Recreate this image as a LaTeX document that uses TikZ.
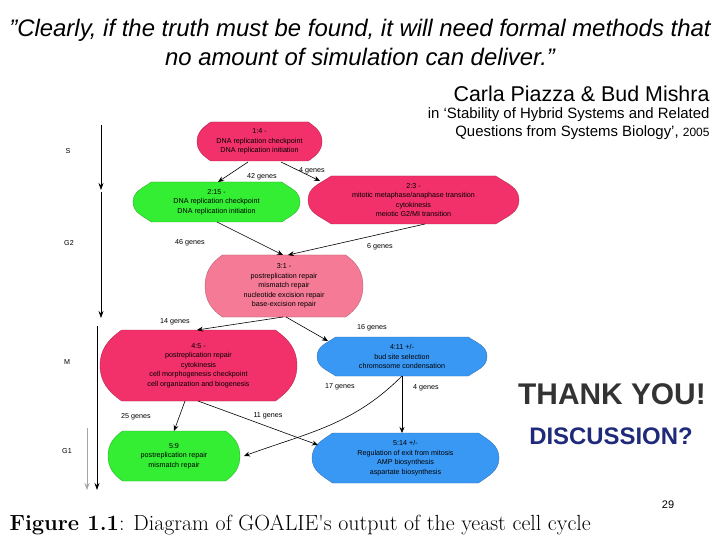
\documentclass[tikz,border=0pt]{standalone}
\usepackage{fontspec}
\setmainfont{Liberation Sans}
\newfontfamily\lmfont{Latin Modern Roman}
\usetikzlibrary{arrows.meta}
\definecolor{cred}{HTML}{F2306A}
\definecolor{cpink}{HTML}{F47A95}
\definecolor{cgreen}{HTML}{33EE33}
\definecolor{cblue}{HTML}{3A98F5}
\definecolor{navy}{HTML}{1F2A7A}
\tikzset{
  gtxt/.style={font=\fontsize{7.2}{9.6}\selectfont, align=center, inner sep=0pt},
  elab/.style={font=\fontsize{7.2}{9}\selectfont, inner sep=1pt},
  edge/.style={-{Stealth[length=6pt,width=5pt]}, line width=0.6pt},
  phase/.style={-{Stealth[length=7pt,width=5pt]}, line width=0.7pt},
}
\newcommand{\gbox}[6]{%
  \pgfmathsetmacro{\dd}{0.11*(#3-#1)}%
  \fill[#5, draw=#5!70!black, line width=0.3pt] (#1+\dd,#2) -- (#3-\dd,#2)
    to[out=-35,in=90] (#3,{(#2+#4)/2}) to[out=-90,in=35] (#3-\dd,#4)
    -- (#1+\dd,#4) to[out=145,in=-90] (#1,{(#2+#4)/2}) to[out=90,in=215] cycle;
  \coordinate (#6) at ({(#1+#3)/2},{(#2+#4)/2});
}
\begin{document}
\begin{tikzpicture}[x=1bp,y=-1bp]
\useasboundingbox (0,0) rectangle (720,540);
\fill[white] (0,0) rectangle (720,540);
\node[font=\fontsize{24}{28}\selectfont\itshape] (q1) at (360,30) {”Clearly, if the truth must be found, it will need formal methods that};
\node[font=\fontsize{24}{28}\selectfont\itshape] (q2) at (360,57) {no amount of simulation can deliver.”};
\node[font=\fontsize{21.5}{25}\selectfont, anchor=east] (au) at (713,94) {Carla Piazza \& Bud Mishra};
\node[font=\fontsize{15}{18}\selectfont, anchor=east] (r1) at (713,115) {in ‘Stability of Hybrid Systems and Related};
\node[font=\fontsize{15}{18}\selectfont, anchor=east] (r2) at (713,133) {Questions from Systems Biology’, {\fontsize{12}{14}\selectfont 2005}};
\gbox{197}{122}{322}{161}{cred}{n1}
\gbox{133}{182}{300}{222}{cgreen}{n2}
\gbox{308}{176}{519}{224}{cred}{n3}
\gbox{205}{255}{363}{317}{cpink}{n4}
\gbox{100}{330}{297}{401}{cred}{n5}
\gbox{317}{337}{487}{376}{cblue}{n6}
\gbox{108}{431}{240}{481}{cgreen}{n7}
\gbox{312}{433}{499}{483}{cblue}{n8}
\node[gtxt] (t1) at (n1) {1:4 -\\DNA replication checkpoint\\DNA replication initiation};
\node[gtxt] (t2) at (n2) {2:15 -\\DNA replication checkpoint\\DNA replication initiation};
\node[gtxt] (t3) at (n3) {2:3 -\\mitotic metaphase/anaphase transition\\cytokinesis\\meiotic G2/MI transition};
\node[gtxt] (t4) at (n4) {3:1 -\\postreplication repair\\mismatch repair\\nucleotide excision repair\\base-excision repair};
\node[gtxt] (t5) at (n5) {4:5 -\\postreplication repair\\cytokinesis\\cell morphogenesis checkpoint\\cell organization and biogenesis};
\node[gtxt] (t6) at (n6) {4:11 +/-\\bud site selection\\chromosome condensation};
\node[gtxt] (t7) at (n7) {5:9\\postreplication repair\\mismatch repair};
\node[gtxt] (t8) at (n8) {5:14 +/-\\Regulation of exit from mitosis\\AMP biosynthesis\\aspartate biosynthesis};
\coordinate (a1) at (248,162); \coordinate (b2) at (218,182);
\coordinate (a1b) at (281,162); \coordinate (b3) at (320,181);
\coordinate (a2) at (217,222); \coordinate (b4) at (283,255);
\coordinate (a3) at (425,224); \coordinate (b4b) at (288,255);
\coordinate (a4) at (283,317); \coordinate (b5) at (197,330);
\coordinate (a4b) at (286,317); \coordinate (b6) at (328,341);
\coordinate (a5) at (185,401); \coordinate (b7) at (174,431);
\coordinate (a5b) at (198,401); \coordinate (b8) at (318,445);
\coordinate (a6) at (402,376); \coordinate (b7b) at (244,456);
\coordinate (a6b) at (402,376); \coordinate (b8b) at (402,433);
\draw[edge] (a1) -- (b2);
\draw[edge] (a1b) -- (b3);
\draw[edge] (a2) -- (b4);
\draw[edge] (a3) -- (b4b);
\draw[edge] (a4) -- (b5);
\draw[edge] (a4b) -- (b6);
\draw[edge] (a5) -- (b7);
\draw[edge] (a5b) to[out=-20,in=160] (b8);
\draw[edge] (a6) to[out=-135,in=20] (b7b);
\draw[edge] (a6b) -- (b8b);
\node[elab] (l1) at (262,177) {42 genes};
\node[elab] (l2) at (312,171) {4 genes};
\node[elab] (l3) at (190,243) {46 genes};
\node[elab] (l4) at (380,247) {6 genes};
\node[elab] (l5) at (175,322) {14 genes};
\node[elab] (l6) at (372,328) {16 genes};
\node[elab] (l7) at (136,417) {25 genes};
\node[elab] (l8) at (268,416) {11 genes};
\node[elab] (l9) at (340,387) {17 genes};
\node[elab] (l10) at (426,388) {4 genes};
\coordinate (p0) at (101,125); \coordinate (p1) at (101,190);
\coordinate (p2) at (101,192); \coordinate (p3) at (101,318);
\coordinate (p4) at (97,326); \coordinate (p5) at (97,490);
\coordinate (p6) at (87,428); \coordinate (p7) at (87,490);
\draw[phase] (p0) -- (p1);
\draw[phase] (p2) -- (p3);
\draw[phase] (p4) -- (p5);
\draw[phase, gray!70] (p6) -- (p7);
\node[elab] (s) at (68,151) {S};
\node[elab] (g2) at (69,243) {G2};
\node[elab] (m) at (67,362) {M};
\node[elab] (g1) at (67,451) {G1};
\node[font=\bfseries\fontsize{30}{36}\selectfont, text=black!80] (ty) at (612,394) {THANK YOU!};
\node[font=\bfseries\fontsize{24}{28}\selectfont, text=navy] (ds) at (611,436) {DISCUSSION?};
\node[font=\fontsize{11}{13}\selectfont] (pg) at (668,505) {29};
\node[font=\lmfont\fontsize{22}{26}\selectfont, anchor=west] (cap) at (6,525) {\textbf{Figure 1.1}: Diagram of GOALIE's output of the yeast cell cycle};
\end{tikzpicture}
\end{document}
